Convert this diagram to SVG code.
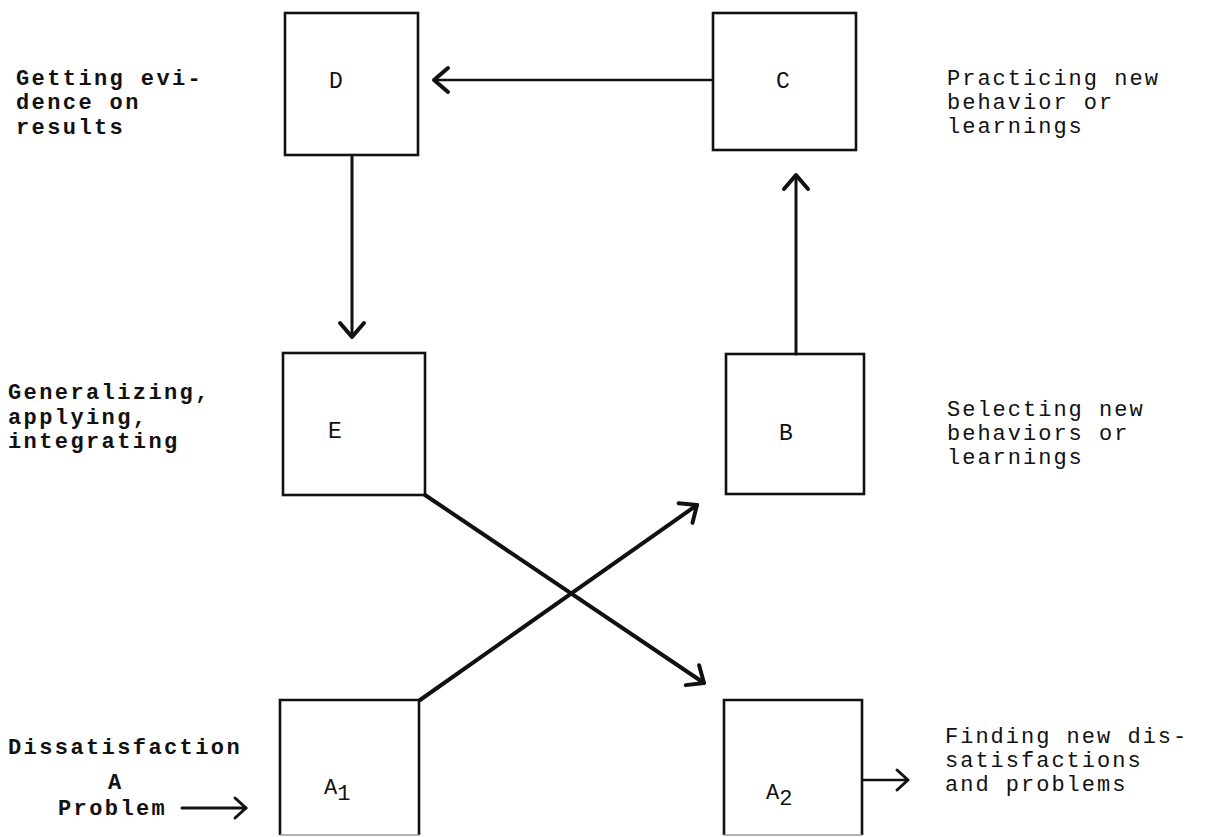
<svg xmlns="http://www.w3.org/2000/svg" width="1207" height="837" viewBox="0 0 1207 837">
<defs>
<style>
.box{fill:none;stroke:#111;stroke-width:2.6}
.lbl{font-family:"Liberation Mono","Courier New",monospace;font-size:22px;fill:#111}
.left{font-weight:bold;letter-spacing:2.4px}
.right{letter-spacing:2px}
.ltr{font-family:"Liberation Mono","Courier New",monospace;font-size:23px;fill:#111;text-anchor:middle}
.con{fill:none;stroke:#111;stroke-linecap:round}
</style>
<marker id="head" markerUnits="userSpaceOnUse" orient="auto" refX="0" refY="0" markerWidth="40" markerHeight="40" viewBox="-20 -20 40 40" overflow="visible">
<path d="M -14 -12 L 0 0 L -14 12" fill="none" stroke="#111" stroke-width="4" stroke-linecap="round" stroke-linejoin="round"/>
</marker>
<marker id="small" markerUnits="userSpaceOnUse" orient="auto" refX="0" refY="0" markerWidth="30" markerHeight="30" viewBox="-15 -15 30 30" overflow="visible">
<path d="M -11 -10 L 0 0 L -11 10" fill="none" stroke="#111" stroke-width="3" stroke-linecap="round" stroke-linejoin="round"/>
</marker>
</defs>
<rect width="1207" height="837" fill="#fff"/>

<g id="connectors">
<line class="con" x1="713" y1="80" x2="434" y2="80" stroke-width="2.5" marker-end="url(#head)"/>
<line class="con" x1="352" y1="156" x2="352" y2="337" stroke-width="3" marker-end="url(#head)"/>
<line class="con" x1="796" y1="354" x2="796" y2="175" stroke-width="3" marker-end="url(#head)"/>
<line class="con" x1="420" y1="700" x2="697" y2="505" stroke-width="4" marker-end="url(#head)"/>
<line class="con" x1="425" y1="495" x2="704" y2="683" stroke-width="4" marker-end="url(#head)"/>
<line class="con" x1="182" y1="808" x2="246" y2="808" stroke-width="3" marker-end="url(#small)"/>
<line class="con" x1="863" y1="780" x2="908" y2="780" stroke-width="2.5" marker-end="url(#small)"/>
</g>

<g id="node-D">
<rect class="box" x="285" y="13" width="133" height="142"/>
<text class="ltr" x="336" y="88">D</text>
<text class="lbl left" x="16" y="85">Getting evi-</text>
<text class="lbl left" x="16" y="109">dence on</text>
<text class="lbl left" x="16" y="134">results</text>
</g>

<g id="node-C">
<rect class="box" x="713" y="13" width="143" height="137"/>
<text class="ltr" x="783" y="88">C</text>
<text class="lbl right" x="947" y="85">Practicing new</text>
<text class="lbl right" x="947" y="109">behavior or</text>
<text class="lbl right" x="947" y="133">learnings</text>
</g>

<g id="node-E">
<rect class="box" x="283" y="353" width="142" height="142"/>
<text class="ltr" x="335" y="438">E</text>
<text class="lbl left" x="8" y="399">Generalizing,</text>
<text class="lbl left" x="8" y="424">applying,</text>
<text class="lbl left" x="8" y="448">integrating</text>
</g>

<g id="node-B">
<rect class="box" x="726" y="354" width="138" height="140"/>
<text class="ltr" x="786" y="440">B</text>
<text class="lbl right" x="947" y="416">Selecting new</text>
<text class="lbl right" x="947" y="440">behaviors or</text>
<text class="lbl right" x="947" y="464">learnings</text>
</g>

<g id="node-A1">
<path class="box" d="M280 835 V700 H419 V835"/>
<line x1="280" y1="835" x2="419" y2="835" stroke="#999" stroke-width="1.5"/>
<text class="lbl" x="324" y="794" font-size="23">A<tspan dy="6">1</tspan></text>
<text class="lbl left" x="8" y="754">Dissatisfaction</text>
<text class="lbl left" x="108" y="789">A</text>
<text class="lbl left" x="58" y="815">Problem</text>
</g>

<g id="node-A2">
<path class="box" d="M724 835 V700 H862 V835"/>
<line x1="724" y1="835" x2="862" y2="835" stroke="#999" stroke-width="1.5"/>
<text class="lbl" x="766" y="799" font-size="23">A<tspan dy="6">2</tspan></text>
<text class="lbl right" x="945" y="743">Finding new dis-</text>
<text class="lbl right" x="945" y="767">satisfactions</text>
<text class="lbl right" x="945" y="791">and problems</text>
</g>
</svg>
